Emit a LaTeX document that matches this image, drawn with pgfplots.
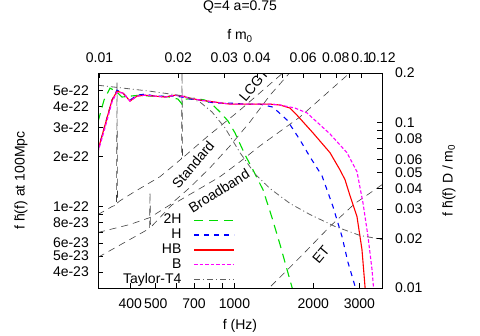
\documentclass[border=0pt]{standalone}
\usepackage{fontspec}
\setmainfont{Liberation Sans}
\usepackage{pgfplots}
\pgfplotsset{compat=1.18}
\definecolor{gpgreen}{HTML}{00DD00}
\definecolor{gpblue}{HTML}{0000FF}
\definecolor{gpred}{HTML}{FF0000}
\definecolor{gpmag}{HTML}{FF00FF}
\definecolor{gpgray}{HTML}{606060}
\definecolor{noise}{HTML}{404040}
\pgfplotsset{
  s2H/.style={color=gpgreen, line width=1.1pt, dash pattern=on 9pt off 6pt},
  sH/.style={color=gpblue, line width=1.1pt, dash pattern=on 5pt off 5pt},
  sHB/.style={color=gpred, line width=1.4pt, solid},
  sB/.style={color=gpmag, line width=1.1pt, dash pattern=on 3.5pt off 2pt},
  sT4/.style={color=gpgray, line width=0.8pt, dash pattern=on 6pt off 3pt on 1pt off 3pt},
  sN/.style={color=noise, line width=0.6pt, dash pattern=on 7pt off 5pt},
}

\begin{document}
\fontsize{14}{16}\selectfont
\begin{tikzpicture}
\path[use as bounding box] (0,0) rectangle (480pt,336pt);
\begin{axis}[
    at={(98pt,48pt)}, anchor=south west, scale only axis,
    width=284pt, height=215pt,
    xmode=log, ymode=log,
    xmin=301, xmax=3661, ymin=3.2e-23, ymax=6.4e-22,
    xtick={400,500,600,700,800,900,1000,2000,3000},
    xticklabels={400,500,,700,,,1000,2000,3000},
    ytick={4e-23,5e-23,6e-23,7e-23,8e-23,9e-23,1e-22,2e-22,3e-22,4e-22,5e-22},
    yticklabels={4e-23,5e-23,6e-23,,8e-23,,1e-22,2e-22,3e-22,4e-22,5e-22},
    xtick pos=left, ytick pos=left,
    xminorticks=false, yminorticks=false,
    major tick length=5pt,
    tick style={black, line width=0.6pt},
    axis line style={line width=0.8pt},
    every tick label/.append style={inner sep=0pt, font=\fontsize{14}{16}\selectfont},
    xticklabel style={yshift=-10pt},
    yticklabel style={xshift=-9pt},
    xlabel={f (Hz)}, ylabel={f \~{h}(f) at 100Mpc},
    every axis x label/.style={at={(axis description cs:0.5,0)}, anchor=center, yshift=-38pt},
    every axis y label/.style={at={(axis description cs:-0.271,0.5)}, rotate=90, anchor=center},
    legend style={at={(0.4824,0.347)}, anchor=north east, draw=none, fill=none,
        inner sep=0pt, row sep=1.85pt, column sep=0pt,
        nodes={inner sep=0pt, text height=10pt, text depth=3pt},
        font=\fontsize{14}{16}\selectfont},
    legend plot pos=right,
    legend cell align=right,
    legend image code/.code={\path (0pt,0pt); \draw[#1] (12pt,0pt) -- (52pt,0pt);},
]
% detector noise curves
\addplot[forget plot, sN] coordinates {
(301,8.91e-23) (340.5,9.96e-23) (354.2,1.02e-22) (355.8,5.63e-22) (357.4,1.05e-22)
(365.3,1.08e-22) (416.9,1.23e-22) (519.3,1.51e-22) (627.6,1.94e-22) (630.4,7e-22)
(633.1,1.96e-22) (785.3,2.63e-22) (1049.5,3.82e-22) (1572.8,6.65e-22)};
\addplot[forget plot, sN] coordinates {
(301,6.94e-23) (398.9,7.76e-23) (475.6,8.55e-23) (567.0,1.02e-22) (676.1,1.30e-22)
(806.2,1.71e-22) (961.2,2.32e-22) (1146.0,3.24e-22) (1366.4,4.70e-22) (1658,6.65e-22)};
\addplot[forget plot, sN] coordinates {
(301,4.91e-23) (398.9,6.30e-23) (473.6,7.34e-23) (475.6,1.21e-22) (477.7,7.44e-23)
(577.2,1.02e-22) (725.4,1.26e-22) (880.3,1.51e-22) (1049.5,1.86e-22) (1251.4,2.32e-22)
(1779.2,3.47e-22) (2643.1,6.04e-22) (2810.8,6.65e-22)};
\addplot[forget plot, sN] coordinates {
(1273.5,2.94e-23) (1366.4,3.24e-23) (1779.2,4.91e-23) (2316.6,7.55e-23) (2886.2,1.04e-22) (3661,1.35e-22)};
% waveforms
\addplot[forget plot, s2H] coordinates {
(301,3.24e-22) (317.3,4.39e-22) (334.5,5.18e-22) (352.7,4.97e-22) (371.8,4.58e-22)
(398.9,4.64e-22) (435.5,4.70e-22) (475.6,4.64e-22) (519.3,4.64e-22) (567.0,4.58e-22)
(608.5,4.45e-22) (630.4,4.15e-22) (652.9,4.45e-22) (706.5,4.51e-22) (771.5,4.39e-22)
(820.6,4.15e-22) (880.3,3.72e-22) (944.6,3.28e-22) (1004.4,2.78e-22) (1096.7,2.05e-22)
(1176.8,1.66e-22) (1284.9,1.26e-22) (1390.5,8.55e-23) (1492.0,5.88e-23) (1658.1,3.24e-23) (1688,2.94e-23)};
\addplot[forget plot, sH] coordinates {
(301,2.19e-22) (320.1,3.10e-22) (340.5,4.39e-22) (355.8,5.04e-22) (375.1,4.84e-22)
(398.9,4.39e-22) (424.2,4.70e-22) (455.1,4.77e-22) (497.0,4.64e-22) (542.8,4.64e-22)
(592.6,4.64e-22) (630.4,4.58e-22) (676.1,4.45e-22) (738.3,4.39e-22) (842.5,4.21e-22)
(961.2,4.21e-22) (1096.7,4.15e-22) (1251.4,4.15e-22) (1403.0,3.98e-22) (1586.7,3.33e-22)
(1779.2,2.52e-22) (1942.8,1.99e-22) (2159.0,1.53e-22) (2378.2,9.96e-23) (2574.1,6.57e-23)
(2713.4,4.58e-23) (2886.2,3.29e-23) (2911.6,2.94e-23)};
\addplot[forget plot, color=gpred, line width=1.1pt, solid] coordinates {
(301,2.19e-22) (320.1,3.10e-22) (340.5,4.39e-22) (355.8,4.97e-22) (375.1,4.84e-22)
(398.9,4.33e-22) (424.2,4.64e-22) (455.1,4.70e-22) (497.0,4.64e-22) (542.8,4.58e-22)
(592.6,4.70e-22) (630.4,4.64e-22) (676.1,4.51e-22) (738.3,4.39e-22) (842.5,4.27e-22)
(961.2,4.15e-22) (1146.0,4.15e-22) (1366.4,4.15e-22) (1492.0,4.10e-22) (1629.3,3.93e-22)
(1732.7,3.56e-22) (1994.5,2.78e-22) (2316.6,2.11e-22) (2529.5,1.66e-22) (2643.1,1.45e-22)
(2762.0,1.16e-22) (2937.2,8.67e-23) (3069.0,5.48e-23) (3151.3,3.29e-23) (3165.1,2.94e-23)};
\addplot[forget plot, sB] coordinates {
(301,2.13e-22) (320.1,2.98e-22) (340.5,4.27e-22) (355.8,4.90e-22) (375.1,4.84e-22)
(398.9,4.33e-22) (424.2,4.64e-22) (455.1,4.70e-22) (497.0,4.64e-22) (542.8,4.58e-22)
(592.6,4.70e-22) (630.4,4.64e-22) (676.1,4.51e-22) (738.3,4.39e-22) (842.5,4.27e-22)
(961.2,4.15e-22) (1146.0,4.15e-22) (1366.4,4.15e-22) (1492.0,4.10e-22) (1702.4,3.93e-22)
(1892.4,3.67e-22) (2316.6,2.74e-22) (2689.8,2.11e-22) (2937.2,1.62e-22) (3096.0,1.05e-22)
(3235.9,6.57e-23) (3351.9,4.16e-23) (3396.2,3.24e-23) (3411.9,2.94e-23)};
\addplot[forget plot, sT4] coordinates {
(301,5.40e-22) (475.6,4.97e-22) (647.2,4.64e-22) (738.3,4.27e-22) (820.6,3.72e-22)
(919.8,2.98e-22) (1049.5,2.11e-22) (1197.5,1.57e-22) (1366.4,1.28e-22) (1629.3,1.04e-22)
(1942.8,8.91e-23) (2420.6,7.55e-23) (3016.0,6.66e-23) (3661,6.30e-23)};
\addlegendimage{s2H}\addlegendentry{2H}
\addlegendimage{sH}\addlegendentry{H}
\addlegendimage{sHB}\addlegendentry{HB}
\addlegendimage{sB}\addlegendentry{B}
\addlegendimage{sT4}\addlegendentry{Taylor-T4}
\node[rotate=50] at (axis cs:694.3,1.78e-22) {Standard};
\node[rotate=32] at (axis cs:872.7,1.243e-22) {Broadband};
\node[rotate=50] at (axis cs:1187,5.40e-22) {LCGT};
\node[rotate=50] at (axis cs:2140,5.12e-23) {ET};
\end{axis}
\begin{axis}[
    at={(98pt,48pt)}, anchor=south west, scale only axis,
    width=284pt, height=215pt,
    xmode=log, ymode=log,
    xmin=0.009870, xmax=0.12005, ymin=0.01, ymax=0.2,
    xtick pos=right, ytick pos=right,
    xticklabel pos=right, yticklabel pos=right,
    xminorticks=false, yminorticks=false,
    xtick={0.01,0.02,0.03,0.04,0.05,0.06,0.07,0.08,0.09,0.1,0.12},
    xticklabels={0.01,0.02,0.03,0.04,,0.06,,0.08,,0.1,0.12},
    ytick={0.01,0.02,0.03,0.04,0.05,0.06,0.07,0.08,0.09,0.1,0.2},
    yticklabels={0.01,0.02,0.03,0.04,0.05,0.06,,0.08,,0.1,0.2},
    major tick length=5pt,
    tick style={black, line width=0.6pt},
    axis line style={line width=0.8pt},
    every tick label/.append style={inner sep=0pt, font=\fontsize{14}{16}\selectfont},
    xticklabel style={yshift=10pt},
    yticklabel style={xshift=13pt},
    xlabel={f m\textsubscript{0}}, ylabel={f \~{h}(f) D / m\textsubscript{0}},
    every axis x label/.style={at={(axis description cs:0.5,1)}, anchor=center, yshift=37pt},
    every axis y label/.style={at={(axis description cs:1.236,0.5)}, rotate=90, anchor=center},
    title={Q=4 a=0.75},
    every axis title/.style={at={(axis description cs:0.5,1)}, anchor=center, yshift=66pt},
]
\end{axis}
\end{tikzpicture}
\end{document}
